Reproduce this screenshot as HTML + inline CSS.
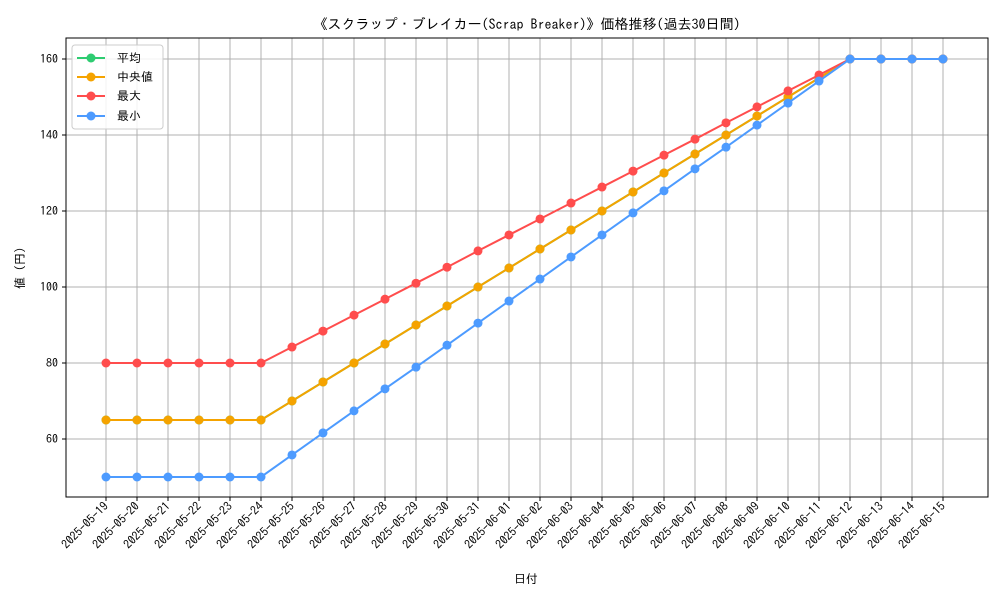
<!DOCTYPE html>
<html><head><meta charset="utf-8"><style>
body{margin:0;background:#fff;}
svg text{font-family:"IPAGothic","Noto Sans CJK JP",monospace;fill:#000;}
</style></head><body>
<svg id="chart" width="1000" height="600" xmlns="http://www.w3.org/2000/svg">
<rect width="1000" height="600" fill="#fff"/>
<text x="527" y="29" text-anchor="middle" font-size="14">《スクラップ・ブレイカー(Scrap Breaker)》価格推移(過去30日間)</text>
<g id="grid"></g>
<g id="axes"></g>
<g id="series"></g>
<rect x="66" y="38" width="922" height="459" fill="none" stroke="#000" stroke-width="1"/>
<text transform="translate(24,268) rotate(-90)" text-anchor="middle" font-size="12">値 (円)</text>
<text x="526" y="583" text-anchor="middle" font-size="12">日付</text>
<g>
<rect x="72" y="45" width="91" height="84" rx="3" fill="#fff" fill-opacity="0.85" stroke="#ccc"/>
<g><line x1="77" y1="58" x2="105" y2="58" stroke="#2ecc71" stroke-width="2"/><circle cx="91" cy="58" r="4.5" fill="#2ecc71"/><text x="117" y="62" font-size="12">平均</text></g>
<g><line x1="77" y1="77" x2="105" y2="77" stroke="#f5a300" stroke-width="2"/><circle cx="91" cy="77" r="4.5" fill="#f5a300"/><text x="117" y="81" font-size="12">中央値</text></g>
<g><line x1="77" y1="96" x2="105" y2="96" stroke="#ff4d4d" stroke-width="2"/><circle cx="91" cy="96" r="4.5" fill="#ff4d4d"/><text x="117" y="100" font-size="12">最大</text></g>
<g><line x1="77" y1="116" x2="105" y2="116" stroke="#4d9bff" stroke-width="2"/><circle cx="91" cy="116" r="4.5" fill="#4d9bff"/><text x="117" y="120" font-size="12">最小</text></g>
</g>
</svg>
<script>
const dates=["2025-05-19","2025-05-20","2025-05-21","2025-05-22","2025-05-23","2025-05-24","2025-05-25","2025-05-26","2025-05-27","2025-05-28","2025-05-29","2025-05-30","2025-05-31","2025-06-01","2025-06-02","2025-06-03","2025-06-04","2025-06-05","2025-06-06","2025-06-07","2025-06-08","2025-06-09","2025-06-10","2025-06-11","2025-06-12","2025-06-13","2025-06-14","2025-06-15"];
const meanVals=[65,65,65,65,65,65,70,75,80,85,90,95,100,105,110,115,120,125,130,135,140,145,150,155,160,160,160,160];
const medianVals=[65,65,65,65,65,65,70,75,80,85,90,95,100,105,110,115,120,125,130,135,140,145,150,155,160,160,160,160];
const maxVals=[80,80,80,80,80,80,84.2,88.4,92.6,96.8,101,105.2,109.5,113.7,117.9,122.1,126.3,130.5,134.7,138.9,143.2,147.4,151.6,155.8,160,160,160,160];
const minVals=[50,50,50,50,50,50,55.8,61.6,67.4,73.2,78.9,84.7,90.5,96.3,102.1,107.9,113.7,119.5,125.3,131.1,136.8,142.6,148.4,154.2,160,160,160,160];
const yTicks=[60,80,100,120,140,160];
const NS="http://www.w3.org/2000/svg";
function xs(i){return 106+i*(943-106)/(dates.length-1);}
function ys(v){return 439-(v-60)*3.8;}
function mk(tag,attrs,parent){const e=document.createElementNS(NS,tag);for(const k in attrs)e.setAttribute(k,attrs[k]);parent.appendChild(e);return e;}
const grid=document.getElementById('grid'),axes=document.getElementById('axes'),ser=document.getElementById('series');
dates.forEach((d,i)=>{const x=xs(i);
 const g=mk('line',{x1:x,x2:x,y1:38,y2:497,stroke:'#b0b0b0','stroke-width':1},grid);
 
 
 mk('line',{x1:x,x2:x,y1:497,y2:501,stroke:'#000'},axes);
 const t=mk('text',{x:x+3,y:507,'text-anchor':'end','font-size':'12',transform:`rotate(-45 ${x+3} 507)`},axes);
 
 
 t.textContent=d;});
yTicks.forEach(v=>{const y=ys(v);
 const g=mk('line',{x1:66,x2:988,y1:y,y2:y,stroke:'#b0b0b0','stroke-width':1},grid);
 
 
 mk('line',{x1:62,x2:66,y1:y,y2:y,stroke:'#000'},axes);
 const t=mk('text',{x:58,y:y+4,'text-anchor':'end','font-size':'12'},axes);
 
 
 t.textContent=v;});
function drawSeries(vals,color,name){
 const g=mk('g',{},ser);
 
 
 mk('polyline',{points:vals.map((v,i)=>xs(i)+','+ys(v)).join(' '),fill:'none',stroke:color,'stroke-width':2},g);
 vals.forEach((v,i)=>{const c=mk('circle',{cx:xs(i),cy:ys(v),r:4.5,fill:color},g);
  
  });
}
drawSeries(meanVals,'#2ecc71','series-mean');
drawSeries(medianVals,'#f5a300','series-median');
drawSeries(maxVals,'#ff4d4d','series-max');
drawSeries(minVals,'#4d9bff','series-min');
</script>
</body></html>
